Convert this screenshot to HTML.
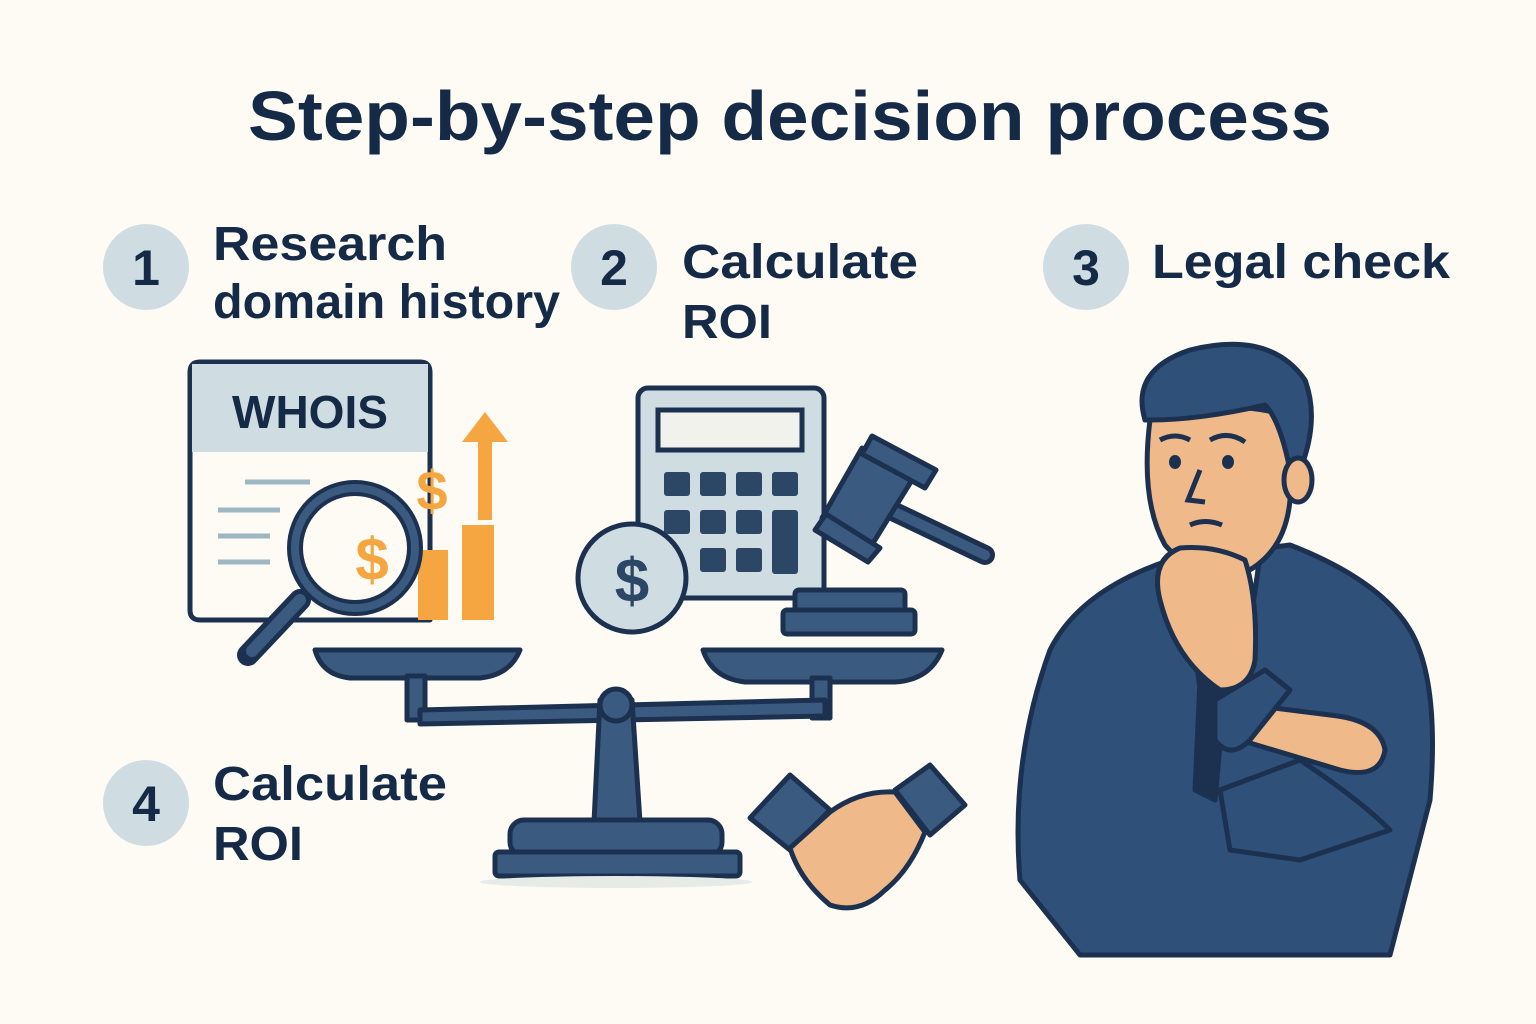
<!DOCTYPE html>
<html><head><meta charset="utf-8"><style>
html,body{margin:0;padding:0;background:#fdfbf3;}
svg{display:block}
text{font-family:"Liberation Sans",sans-serif;font-weight:bold;fill:#142a47}
</style></head><body>
<svg width="1536" height="1024" viewBox="0 0 1536 1024" xmlns="http://www.w3.org/2000/svg">
<rect width="1536" height="1024" fill="#fdfbf3"/>
<text x="248" y="140" font-size="70" textLength="1084" lengthAdjust="spacingAndGlyphs">Step-by-step decision process</text>
<g fill="#cfdde3">
<circle cx="146" cy="267" r="43"/><circle cx="614" cy="267" r="43"/><circle cx="1086" cy="267" r="43"/><circle cx="146" cy="803" r="43"/>
</g>
<g font-size="50" text-anchor="middle">
<text x="146" y="285">1</text><text x="614" y="285">2</text><text x="1086" y="285">3</text><text x="146" y="821">4</text>
</g>
<g font-size="48">
<text x="213" y="260" textLength="234" lengthAdjust="spacingAndGlyphs">Research</text><text x="213" y="318" textLength="347" lengthAdjust="spacingAndGlyphs">domain history</text>
<text x="682" y="278" textLength="236" lengthAdjust="spacingAndGlyphs">Calculate</text><text x="682" y="338" textLength="90" lengthAdjust="spacingAndGlyphs">ROI</text>
<text x="1152" y="278" textLength="298" lengthAdjust="spacingAndGlyphs">Legal check</text>
<text x="213" y="800" textLength="234" lengthAdjust="spacingAndGlyphs">Calculate</text><text x="213" y="860" textLength="90" lengthAdjust="spacingAndGlyphs">ROI</text>
</g>
<!-- WHOIS doc -->
<g stroke="#1c3150" stroke-width="5" stroke-linejoin="round">
<path d="M200 362 H420 Q430 362 430 372 V620 H200 Q190 620 190 610 V372 Q190 362 200 362Z" fill="#fdfbf3"/>
<rect x="192" y="364" width="236" height="88" fill="#cfdde3" stroke="none"/>
</g>
<text x="310" y="428" font-size="46" text-anchor="middle">WHOIS</text>
<g stroke="#9fb7c3" stroke-width="5"><line x1="245" y1="482" x2="310" y2="482"/><line x1="218" y1="510" x2="280" y2="510"/><line x1="218" y1="536" x2="270" y2="536"/><line x1="218" y1="562" x2="270" y2="562"/></g>
<!-- bars and arrow -->
<g fill="#f5a640"><rect x="418" y="550" width="30" height="70"/><rect x="462" y="525" width="32" height="95"/><rect x="478" y="440" width="14" height="80"/><polygon points="485,412 508,442 462,442"/></g>
<text x="432" y="510" font-size="56" style="fill:#f5a640" text-anchor="middle">$</text>
<!-- magnifier -->
<line x1="300" y1="600" x2="248" y2="655" stroke="#1c3150" stroke-width="22" stroke-linecap="round"/>
<line x1="300" y1="600" x2="252" y2="651" stroke="#3a5a80" stroke-width="12" stroke-linecap="round"/>
<circle cx="355" cy="548" r="60" fill="#fdfbf3" stroke="#1c3150" stroke-width="16"/>
<circle cx="355" cy="548" r="60" fill="none" stroke="#3a5a80" stroke-width="8"/>
<text x="372" y="580" font-size="60" style="fill:#f5a640" text-anchor="middle">$</text>
<!-- calculator -->
<rect x="638" y="388" width="186" height="210" rx="10" fill="#cfdde3" stroke="#1c3150" stroke-width="5"/>
<rect x="658" y="410" width="144" height="40" fill="#f2f2ec" stroke="#1c3150" stroke-width="5"/>
<g fill="#2c4666">
<rect x="664" y="472" width="26" height="24" rx="3"/><rect x="700" y="472" width="26" height="24" rx="3"/><rect x="736" y="472" width="26" height="24" rx="3"/><rect x="772" y="472" width="26" height="24" rx="3"/>
<rect x="664" y="510" width="26" height="24" rx="3"/><rect x="700" y="510" width="26" height="24" rx="3"/><rect x="736" y="510" width="26" height="24" rx="3"/><rect x="772" y="510" width="26" height="64" rx="3"/>
<rect x="700" y="548" width="26" height="24" rx="3"/><rect x="736" y="548" width="26" height="24" rx="3"/>
</g>
<circle cx="632" cy="578" r="54" fill="#cfdde3" stroke="#1c3150" stroke-width="5"/>
<text x="632" y="602" font-size="62" style="fill:#2c4666" text-anchor="middle">$</text>
<!-- gavel -->
<g stroke="#1c3150" stroke-width="5" fill="#3a5a80" stroke-linejoin="round">
<line x1="880" y1="505" x2="985" y2="555" stroke-width="20" stroke-linecap="round"/>
<line x1="880" y1="505" x2="985" y2="555" stroke="#3a5a80" stroke-width="10" stroke-linecap="round"/>
<polygon points="862,448 912,480 870,548 822,518"/>
<polygon points="872,436 936,470 925,488 862,454"/>
<polygon points="826,514 880,548 868,562 815,530"/>
<rect x="795" y="590" width="110" height="22" rx="4"/>
<rect x="783" y="610" width="132" height="24" rx="4"/>
</g>
<!-- scale -->
<g stroke="#1c3150" stroke-width="5" fill="#3a5a80" stroke-linejoin="round">
<path d="M315 650 H520 Q510 675 480 678 H350 Q322 675 315 650Z"/>
<path d="M703 650 H942 Q930 680 895 682 H745 Q712 678 703 650Z"/>
<rect x="407" y="676" width="18" height="44"/><rect x="812" y="678" width="18" height="40"/>
<polygon points="420,710 825,700 825,716 420,724"/>
<polygon points="600,700 632,700 640,822 594,822"/>
<circle cx="616" cy="705" r="16"/>
<rect x="510" y="820" width="212" height="36" rx="14"/>
<rect x="495" y="852" width="245" height="24" rx="4"/>
</g>
<ellipse cx="616" cy="882" rx="136" ry="6" fill="#e6ebe8"/>
<!-- handshake -->
<g stroke="#1c3150" stroke-width="5" stroke-linejoin="round">
<polygon points="750,818 790,775 830,810 790,850" fill="#3a5a80"/>
<polygon points="895,790 930,765 965,805 930,835" fill="#3a5a80"/>
<path d="M790 848 Q800 880 830 905 Q860 915 885 890 Q910 870 925 832 L895 792 Q860 790 830 812 Z" fill="#f0b98a"/>
</g>
<!-- man -->
<g stroke="#1c3150" stroke-width="5" stroke-linejoin="round">
<path d="M1080 955 L1020 880 Q1010 760 1050 650 Q1080 590 1170 560 L1290 545 Q1380 580 1410 630 Q1440 680 1430 800 L1390 955 Z" fill="#2f5078"/>
<polygon points="1185,560 1260,555 1240,700 1200,690" fill="#fff"/>
<polygon points="1200,680 1225,690 1215,800 1195,790" fill="#1c3150"/>
<path d="M1150 420 Q1140 500 1165 545 Q1200 585 1240 575 Q1285 555 1290 500 L1298 420 Q1240 395 1150 420Z" fill="#f0b98a"/>
<path d="M1145 420 Q1130 370 1190 350 Q1270 330 1305 380 Q1320 420 1300 470 L1290 470 Q1280 420 1265 405 Q1200 420 1150 420Z" fill="#2f5078"/>
<ellipse cx="1298" cy="480" rx="14" ry="22" fill="#f0b98a"/>
<path d="M1160 600 Q1150 560 1180 548 Q1215 545 1245 560 Q1258 600 1255 660 Q1250 690 1220 690 Q1175 660 1160 600Z" fill="#f0b98a"/>
<path d="M1210 700 L1330 715 Q1380 720 1385 750 Q1380 780 1340 770 L1240 740 Z" fill="#f0b98a"/>
<path d="M1215 700 L1265 670 L1290 690 L1250 740 Q1230 760 1215 740Z" fill="#2f5078"/>
<path d="M1220 790 L1300 760 Q1360 800 1390 830 L1300 860 L1230 850 Z" fill="#2f5078"/>
</g>
<g fill="#1c3150"><ellipse cx="1175" cy="462" rx="6" ry="7"/><ellipse cx="1228" cy="462" rx="6" ry="7"/></g>
<g stroke="#1c3150" stroke-width="5" fill="none"><path d="M1160 440 Q1175 432 1190 440"/><path d="M1210 440 Q1228 430 1245 442"/><path d="M1200 470 L1188 500 L1205 502"/><path d="M1190 525 Q1205 518 1222 525"/></g>
</svg>
</body></html>
